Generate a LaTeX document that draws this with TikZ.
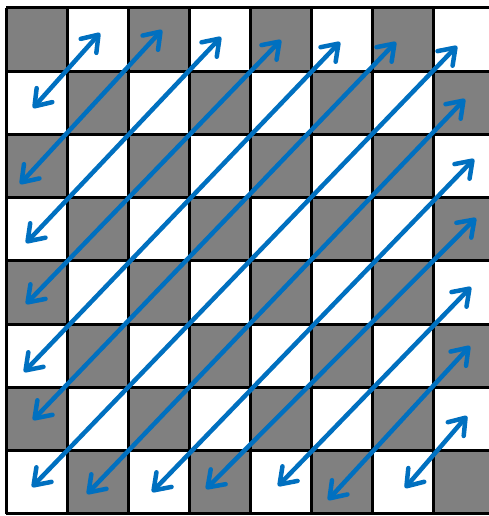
\documentclass[tikz,border=0pt]{standalone}
\usepackage{xcolor}
\usetikzlibrary{arrows.meta}
\definecolor{sqgray}{HTML}{808080}
\definecolor{scanblue}{HTML}{0070C0}

\begin{document}
\begin{tikzpicture}[x=1pt, y=-1pt,
    >={Straight Barb[length=15pt, width=21pt, round]}]
  % page is the size of the reference; the last column runs off the right edge
  \useasboundingbox (0,0) rectangle (489,516);
  \clip (0,0) rectangle (489,516);
  \tikzset{cell/.style={minimum width=61pt, minimum height=63.2pt,
                        inner sep=0pt, outer sep=0pt, anchor=north west,
                        fill=#1},
           grid/.style={line width=3pt, black},
           scan/.style={<->, draw=scanblue, line width=4.5pt}}

  % the squares
  \foreach \r in {0,...,7}
    \foreach \c in {0,...,7} {
      \pgfmathtruncatemacro{\odd}{mod(\r+\c,2)}
      \ifnum\odd=0 \def\sq{sqgray}\else\def\sq{white}\fi
      \node[cell=\sq] (c\r\c) at ({6+61*\c},{8+63.2*\r}) {};
    }

  % the lines between them
  \foreach \i in {0,...,8} {
    \draw[grid] ({6+61*\i},8) -- ({6+61*\i},513.6);
    \draw[grid] (6,{8+63.2*\i}) -- (494,{8+63.2*\i});
  }

  % zigzag scan: one arrow per anti-diagonal
  \foreach \n/\lx/\ly/\ux/\uy in {1/33/108/100/33,   2/20/184/162/30,
                                  3/26/243/221/37,   4/26/304/281/40,
                                  5/24/372/340/42,   6/33/420/396/42,
                                  7/32/487/457/46,   8/87/494/465/99,
                                  9/152/492/474/159, 10/206/489/476/218,
                                  11/278/486/471/287, 12/328/500/470/346,
                                  13/405/488/467/416} {
    \coordinate (lo\n) at (\lx,\ly);
    \coordinate (up\n) at (\ux,\uy);
    \draw[scan] (lo\n) -- (up\n);
  }
\end{tikzpicture}
\end{document}
